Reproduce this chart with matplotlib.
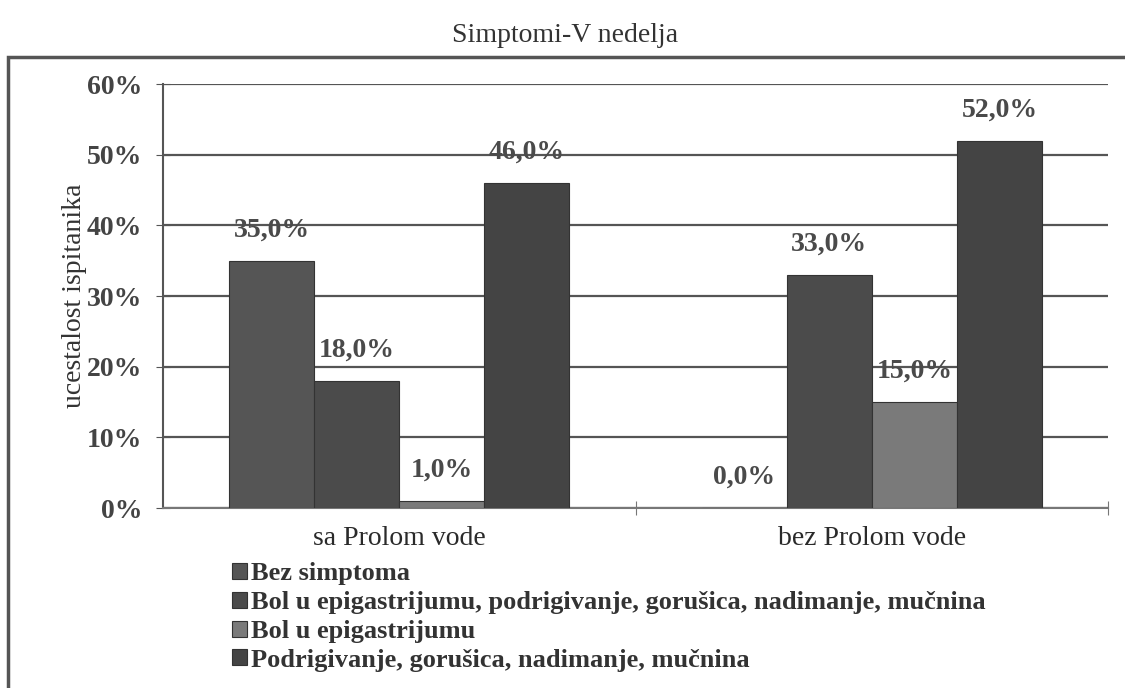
import matplotlib
matplotlib.use("Agg")
import matplotlib.pyplot as plt
import numpy as np
from matplotlib.patches import Rectangle

# data
categories = ["sa Prolom vode", "bez Prolom vode"]
series_names = [
    "Bez simptoma",
    "Bol u epigastrijumu, podrigivanje, gorušica, nadimanje, mučnina",
    "Bol u epigastrijumu",
    "Podrigivanje, gorušica, nadimanje, mučnina",
]
values = [
    [35.0, 0.0],
    [18.0, 33.0],
    [1.0, 15.0],
    [46.0, 52.0],
]
series_colors = ["#555555", "#4b4b4b", "#7a7a7a", "#444444"]
yticks = [0, 10, 20, 30, 40, 50, 60]

plt.rcParams['font.family'] = ['Liberation Serif', 'DejaVu Serif']

fig = plt.figure(figsize=(11.25, 6.88), dpi=100)
ax = fig.add_axes([0.145, 0.2616, 0.84, 0.6163])

# outer chart frame (left and top edges visible in the scan)
frame = Rectangle((8 / 1125, -0.1), 1.2, 1 - 57 / 688 + 0.1, transform=fig.transFigure,
                  fill=False, edgecolor="#555555", linewidth=2.5, zorder=0)
fig.patches.append(frame)

x = np.arange(len(categories))
width = 0.18
for i, (name, vals, col) in enumerate(zip(series_names, values, series_colors)):
    pos = x + (i - 1.5) * width
    bars = ax.bar(pos, vals, width, color=col, edgecolor="#333333", linewidth=0.8,
                  label=name, zorder=3)
    for b, v in zip(bars, vals):
        ax.annotate(f"{v:.1f}%".replace(".", ","), (b.get_x() + b.get_width() / 2, v),
                    xytext=(0, 13), textcoords="offset points", ha="center", va="bottom",
                    fontsize=20, fontweight="bold", color="#4a4a4a", zorder=4)

ax.set_xlim(-0.5, 1.5)
ax.set_ylim(0, 60)
ax.set_yticks(yticks)
ax.set_yticklabels([f"{t}%" for t in yticks], fontsize=20, fontweight="bold", color="#444444")
ax.set_xticks([0.5, 1.5], minor=False)
ax.set_xticklabels([])
ax.set_xticks(x, minor=True)
ax.set_xticklabels(categories, minor=True, fontsize=20, color="#2a2a2a")
ax.tick_params(axis="x", which="minor", length=0, pad=13)
ax.tick_params(axis="x", which="major", direction="inout", length=10, color="#777777")
ax.tick_params(axis="y", direction="inout", length=10, color="#555555", pad=10)

ax.grid(axis="y", color="#555555", linewidth=1.6, zorder=0)
for side in ["top", "right"]:
    ax.spines[side].set_visible(False)
ax.spines["left"].set_color("#555555")
ax.spines["bottom"].set_color("#777777")
ax.spines["left"].set_linewidth(1.5)
ax.spines["bottom"].set_linewidth(1.5)

ax.set_ylabel("ucestalost ispitanika", fontsize=20, color="#333333", labelpad=0)
fig.text(0.502, 0.948, "Simptomi-V nedelja", ha="center", va="center", fontsize=20,
         color="#333333")

ax.legend(loc="upper left", bbox_to_anchor=(0.073, -0.128), frameon=False,
          prop={"size": 19, "weight": "bold"},
          handlelength=0.55, handleheight=0.55, handletextpad=0.15, labelspacing=0.22,
          borderaxespad=0, borderpad=0, labelcolor="#333333")

fig.savefig("out.png", dpi=100)
